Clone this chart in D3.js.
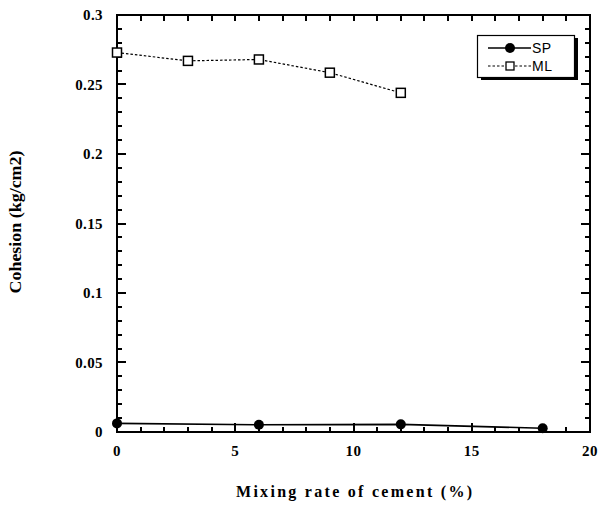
<!DOCTYPE html>
<html>
<head>
<meta charset="utf-8">
<script src="https://cdn.jsdelivr.net/npm/d3@7"></script>
<style>
  html, body { margin: 0; padding: 0; background: #fff; }
  svg { display: block; }
</style>
</head>
<body>
<svg id="chart" width="598" height="506"></svg>
<script>
// Cohesion versus cement mixing rate for two soils
const spRate = [0, 6, 12, 18];
const spCohesion = [0.0062, 0.0052, 0.0055, 0.0027];
const mlRate = [0, 3, 6, 9, 12];
const mlCohesion = [0.273, 0.267, 0.268, 0.2585, 0.244];
const xTicks = [0, 5, 10, 15, 20];
const yTicks = [0, 0.05, 0.1, 0.15, 0.2, 0.25, 0.3];
const yTickLabels = ["0", "0.05", "0.1", "0.15", "0.2", "0.25", "0.3"];
const seriesNames = ["SP", "ML"];

const svg = d3.select("#chart");
const plotL = 117, plotR = 590, plotT = 15, plotB = 432;

const x = d3.scaleLinear().domain([0, 20]).range([plotL, plotR]);
const y = d3.scaleLinear().domain([0, 0.3]).range([plotB, plotT]);

const ink = "#000";
const serif = "'Liberation Serif', 'Times New Roman', serif";
const sans = "'Liberation Sans', Arial, sans-serif";

// Inward tick marks as small filled bars: minor every 1 % / 0.01, major every 5 % / 0.05
const xAll = d3.range(0, 21, 1);
const yAll = d3.range(0, 31, 1).map(k => k / 100);
const xLen = v => (v % 5 === 0 ? 9 : 5);
const yLen = v => (Math.round(v * 100) % 5 === 0 ? 9 : 5);

const ticks = svg.append("g");
ticks.selectAll("rect.tb").data(xAll).join("rect").attr("class", "tb")
  .attr("x", d => Math.round(x(d)) - 1).attr("y", d => plotB - xLen(d))
  .attr("width", 2).attr("height", d => xLen(d))
  .attr("fill", ink);
ticks.selectAll("rect.tt").data(xAll).join("rect").attr("class", "tt")
  .attr("x", d => Math.round(x(d)) - 1).attr("y", plotT)
  .attr("width", 2).attr("height", 6)
  .attr("fill", ink);
ticks.selectAll("rect.tl").data(yAll).join("rect").attr("class", "tl")
  .attr("x", plotL).attr("y", d => Math.round(y(d)) - 1)
  .attr("width", d => yLen(d)).attr("height", 2)
  .attr("fill", ink);
ticks.selectAll("rect.tr").data(yAll).join("rect").attr("class", "tr")
  .attr("x", d => plotR - yLen(d)).attr("y", d => Math.round(y(d)) - 1)
  .attr("width", d => yLen(d)).attr("height", 2)
  .attr("fill", ink);

// Frame
svg.append("rect")
  .attr("x", plotL).attr("y", plotT)
  .attr("width", plotR - plotL).attr("height", plotB - plotT)
  .attr("fill", "none").attr("stroke", ink).attr("stroke-width", 2);

// Tick labels
svg.append("g").selectAll("text").data(xTicks).join("text")
  .attr("x", d => x(d)).attr("y", 456)
  .attr("text-anchor", "middle")
  .attr("font-family", serif).attr("font-weight", "bold").attr("font-size", 15)
  .attr("letter-spacing", 0.4)
  .attr("fill", ink)
  .text(d => d);

svg.append("g").selectAll("text").data(yTicks).join("text")
  .attr("x", 103).attr("y", d => y(d) + 5)
  .attr("text-anchor", "end")
  .attr("font-family", serif).attr("font-weight", "bold").attr("font-size", 15)
  .attr("letter-spacing", 0.4)
  .attr("fill", ink)
  .text((d, i) => yTickLabels[i]);

// Axis titles
svg.append("text")
  .attr("x", 354).attr("y", 497)
  .attr("text-anchor", "middle")
  .attr("font-family", serif).attr("font-weight", "bold").attr("font-size", 16)
  .attr("textLength", 236).attr("lengthAdjust", "spacing")
  .attr("fill", ink)
  .text("Mixing rate of cement (%)");

svg.append("text")
  .attr("transform", "translate(21,222) rotate(-90)")
  .attr("text-anchor", "middle")
  .attr("font-family", serif).attr("font-weight", "bold").attr("font-size", 16)
  .attr("textLength", 143).attr("lengthAdjust", "spacingAndGlyphs")
  .attr("fill", ink)
  .text("Cohesion (kg/cm2)");

// Series lines
const line = d3.line().x(d => x(d[0])).y(d => y(d[1]));
const spData = spRate.map((r, i) => [r, spCohesion[i]]);
const mlData = mlRate.map((r, i) => [r, mlCohesion[i]]);

svg.append("path").datum(spData).attr("d", line)
  .attr("fill", "none").attr("stroke", ink).attr("stroke-width", 1.6);
svg.append("path").datum(mlData).attr("d", line)
  .attr("fill", "none").attr("stroke", ink).attr("stroke-width", 1.2)
  .attr("stroke-dasharray", "2.5,2");

// Markers
svg.append("g").selectAll("circle").data(spData).join("circle")
  .attr("cx", d => x(d[0])).attr("cy", d => y(d[1])).attr("r", 5)
  .attr("fill", ink);
svg.append("g").selectAll("rect").data(mlData).join("rect")
  .attr("x", d => x(d[0]) - 4.5).attr("y", d => y(d[1]) - 4.5)
  .attr("width", 9).attr("height", 9)
  .attr("fill", "#fff").attr("stroke", ink).attr("stroke-width", 1.5);

// Legend with drop shadow
const lg = svg.append("g");
lg.append("rect").attr("x", 481).attr("y", 38).attr("width", 97).attr("height", 42).attr("fill", ink);
lg.append("rect").attr("x", 477.5).attr("y", 35.5).attr("width", 97).attr("height", 42)
  .attr("fill", "#fff").attr("stroke", ink).attr("stroke-width", 1.2);

lg.append("line").attr("x1", 488).attr("x2", 531).attr("y1", 48).attr("y2", 48)
  .attr("stroke", ink).attr("stroke-width", 1.3);
lg.append("circle").attr("cx", 510).attr("cy", 48).attr("r", 5).attr("fill", ink);
lg.append("line").attr("x1", 488).attr("x2", 531).attr("y1", 66).attr("y2", 66)
  .attr("stroke", ink).attr("stroke-width", 1.1).attr("stroke-dasharray", "2.5,2");
lg.append("rect").attr("x", 506).attr("y", 62).attr("width", 8).attr("height", 8)
  .attr("fill", "#fff").attr("stroke", ink).attr("stroke-width", 1.3);

lg.selectAll("text.lab").data(seriesNames).join("text")
  .attr("x", 532).attr("y", (d, i) => 53 + i * 18)
  .attr("font-family", sans).attr("font-size", 14)
  .attr("letter-spacing", 0.5)
  .attr("fill", ink)
  .text(d => d);
</script>
</body>
</html>
